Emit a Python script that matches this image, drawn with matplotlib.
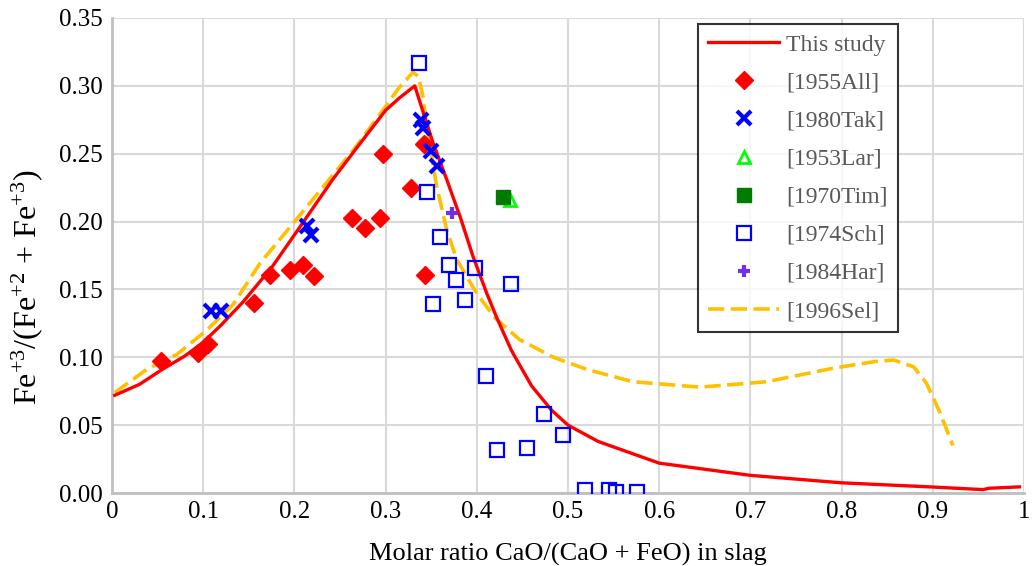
import matplotlib
matplotlib.use("Agg")
import matplotlib.pyplot as plt
from matplotlib.ticker import FixedLocator, FixedFormatter

plt.rcParams['font.family'] = ['Liberation Serif', 'DejaVu Serif']
plt.rcParams['mathtext.fontset'] = 'custom'
plt.rcParams['mathtext.rm'] = 'Liberation Serif'
plt.rcParams['mathtext.it'] = 'Liberation Serif:italic'
plt.rcParams['mathtext.bf'] = 'Liberation Serif:bold'

# ---- data ----
study_x = [0.003, 0.03, 0.055, 0.08, 0.10, 0.12, 0.144, 0.176, 0.205, 0.242, 0.268,
           0.30, 0.315, 0.332, 0.341, 0.352, 0.367, 0.382, 0.396, 0.411, 0.422,
           0.438, 0.460, 0.482, 0.50, 0.533, 0.60, 0.70, 0.80, 0.90, 0.955, 0.962, 0.995]
study_y = [0.072, 0.080, 0.091, 0.101, 0.111, 0.124, 0.141, 0.167, 0.195, 0.231, 0.254,
           0.282, 0.291, 0.300, 0.281, 0.258, 0.231, 0.203, 0.174, 0.147, 0.129,
           0.105, 0.079, 0.061, 0.050, 0.038, 0.022, 0.013, 0.0075, 0.0044, 0.0025, 0.0035, 0.0045]

sel_x = [0.003, 0.038, 0.071, 0.104, 0.133, 0.162, 0.199, 0.232, 0.265, 0.297, 0.314,
         0.330, 0.336, 0.341, 0.345, 0.356, 0.367, 0.378, 0.400, 0.420, 0.447, 0.484,
         0.521, 0.571, 0.645, 0.718, 0.791, 0.838, 0.857, 0.879, 0.893, 0.908, 0.922]
sel_y = [0.074, 0.091, 0.102, 0.120, 0.139, 0.169, 0.199, 0.226, 0.253, 0.282, 0.298,
         0.310, 0.307, 0.292, 0.270, 0.226, 0.194, 0.172, 0.147, 0.129, 0.113, 0.100,
         0.091, 0.082, 0.078, 0.082, 0.092, 0.097, 0.098, 0.093, 0.081, 0.059, 0.035]

all1955_x = [0.054, 0.094, 0.105, 0.156, 0.173, 0.195, 0.209, 0.222, 0.263, 0.277,
             0.294, 0.297, 0.328, 0.342, 0.343]
all1955_y = [0.097, 0.103, 0.110, 0.140, 0.161, 0.164, 0.168, 0.160, 0.203, 0.195,
             0.203, 0.250, 0.225, 0.257, 0.161]

tak1980_x = [0.109, 0.120, 0.214, 0.218, 0.339, 0.341, 0.350, 0.356]
tak1980_y = [0.134, 0.134, 0.197, 0.190, 0.275, 0.269, 0.252, 0.241]

lar1953_x = [0.436]
lar1953_y = [0.216]

tim1970_x = [0.429]
tim1970_y = [0.218]

sch1974_x = [0.337, 0.345, 0.360, 0.369, 0.377, 0.398, 0.438, 0.352, 0.387, 0.410,
             0.474, 0.495, 0.422, 0.455, 0.519, 0.545, 0.553, 0.576]
sch1974_y = [0.317, 0.222, 0.189, 0.168, 0.157, 0.166, 0.154, 0.139, 0.142, 0.086,
             0.058, 0.043, 0.032, 0.033, 0.002, 0.002, 0.001, 0.001]

har1984_x = [0.373]
har1984_y = [0.206]

x_ticks = [0, 0.1, 0.2, 0.3, 0.4, 0.5, 0.6, 0.7, 0.8, 0.9, 1.0]
x_tick_labels = ['0', '0.1', '0.2', '0.3', '0.4', '0.5', '0.6', '0.7', '0.8', '0.9', '1']
y_ticks = [0.00, 0.05, 0.10, 0.15, 0.20, 0.25, 0.30, 0.35]
y_tick_labels = ['0.00', '0.05', '0.10', '0.15', '0.20', '0.25', '0.30', '0.35']

# ---- figure ----
fig = plt.figure(figsize=(10.32, 5.66), dpi=100)
ax = fig.add_axes([112/1032, 1 - 493/566, 912/1032, 475/566])

ax.plot(study_x, study_y, color='#ff0000', lw=2.4, label='This study', zorder=4)
ax.plot(all1955_x, all1955_y, ls='none', marker='D', ms=9, color='#ff0000',
        mec='#ff0000', label='[1955All]', zorder=5)
ax.plot(tak1980_x, tak1980_y, ls='none', marker='x', ms=10, mew=3, color='#0000ff',
        label='[1980Tak]', zorder=6)
ax.plot(lar1953_x, lar1953_y, ls='none', marker='^', ms=9, mew=2, mfc='none',
        mec='#00ff00', label='[1953Lar]', zorder=5)
ax.plot(tim1970_x, tim1970_y, ls='none', marker='s', ms=10, color='#007a00',
        label='[1970Tim]', zorder=6)
ax.plot(sch1974_x, sch1974_y, ls='none', marker='s', ms=9.5, mew=1.6, mfc='none',
        mec='#0000ff', label='[1974Sch]', zorder=5)
ax.plot(har1984_x, har1984_y, ls='none', marker='+', ms=9, mew=3, color='#7030e8',
        label='[1984Har]', zorder=6)
ax.plot(sel_x, sel_y, color='#ffc000', lw=2.6, ls=(0, (4.5, 1.8)), label='[1996Sel]', zorder=3)

ax.set_xlim(0, 1)
ax.set_ylim(0, 0.35)
ax.xaxis.set_major_locator(FixedLocator(x_ticks))
ax.xaxis.set_major_formatter(FixedFormatter(x_tick_labels))
ax.yaxis.set_major_locator(FixedLocator(y_ticks))
ax.yaxis.set_major_formatter(FixedFormatter(y_tick_labels))
ax.tick_params(length=0, labelsize=18)
ax.tick_params(axis='y', pad=7)
ax.tick_params(axis='x', pad=6)
ax.grid(True, color='#d9d9d9', lw=1.5, zorder=0)
ax.set_axisbelow(True)
for s in ['top', 'right']:
    ax.spines[s].set_visible(False)
for s in ['left', 'bottom']:
    ax.spines[s].set_color('#bfbfbf')
    ax.spines[s].set_linewidth(2)

ax.set_xlabel('Molar ratio CaO/(CaO + FeO) in slag', fontsize=19, va='baseline')
ax.set_ylabel(r'Fe$^{+3}$/(Fe$^{+2}$ + Fe$^{+3}$)', fontsize=23)
ax.yaxis.set_label_coords(-0.073, 0.432)
ax.xaxis.set_label_coords(0.5, -0.143)

leg = ax.legend(loc='upper left', bbox_to_anchor=(0.643, 0.987), borderaxespad=0,
                fontsize=17, frameon=True, fancybox=False, handlelength=3.0,
                handletextpad=0.3, labelspacing=0.70, borderpad=0.42)
leg.get_frame().set_edgecolor('black')
leg.get_frame().set_linewidth(1.5)
for t in leg.get_texts():
    t.set_color('#595959')

fig.savefig('out.png', dpi=100)
